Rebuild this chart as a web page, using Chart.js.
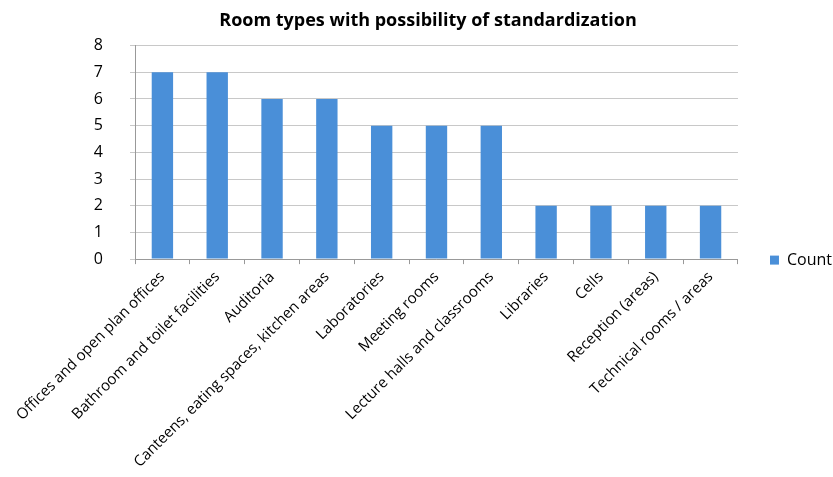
<!DOCTYPE html>
<html>
<head>
<meta charset="utf-8">
<script src="https://cdn.jsdelivr.net/npm/chart.js@4"></script>
<style>
  html, body { margin: 0; padding: 0; background: #fff; }
  #wrap { width: 833px; height: 477px; }
</style>
</head>
<body>
<div id="wrap"><canvas id="roomChart" width="833" height="477"></canvas></div>
<script>
// chart data
const roomTypes = [
    'Offices and open plan offices',
    'Bathroom and toilet facilities',
    'Auditoria',
    'Canteens, eating spaces, kitchen areas',
    'Laboratories',
    'Meeting rooms',
    'Lecture halls and classrooms',
    'Libraries',
    'Cells',
    'Reception (areas)',
    'Technical rooms / areas'
];
const counts = [7, 7, 6, 6, 5, 5, 5, 2, 2, 2, 2];
const yTicks = [0, 1, 2, 3, 4, 5, 6, 7, 8];

const fontFamily = '"Open Sans", "DejaVu Sans", sans-serif';

const ctx = document.getElementById('roomChart').getContext('2d');
new Chart(ctx, {
    type: 'bar',
    data: {
        labels: roomTypes,
        datasets: [{
            label: 'Count',
            data: counts,
            backgroundColor: '#4a8fd8',
            borderWidth: 0,
            categoryPercentage: 1,
            barPercentage: 0.39
        }]
    },
    options: {
        responsive: false,
        animation: false,
        layout: { padding: { left: 14, right: -9, top: 6, bottom: 2 } },
        plugins: {
            title: {
                display: true,
                text: 'Room types with possibility of standardization',
                color: '#000',
                font: { family: fontFamily, size: 18, weight: 'bold' },
                padding: { top: 4, bottom: 14 }
            },
            legend: {
                position: 'right',
                // empty title only pushes the single entry down a little
                title: { display: true, text: ' ', padding: 10, font: { family: fontFamily, size: 16 } },
                labels: {
                    boxWidth: 9,
                    boxHeight: 9,
                    color: '#000',
                    font: { family: fontFamily, size: 16 },
                    padding: 32
                }
            },
            tooltip: { enabled: false }
        },
        scales: {
            x: {
                offset: true,
                grid: {
                    offset: true,
                    drawOnChartArea: false,
                    drawTicks: true,
                    tickLength: 5,
                    color: '#999'
                },
                border: { color: '#999' },
                ticks: {
                    minRotation: 45,
                    maxRotation: 45,
                    autoSkip: false,
                    color: '#000',
                    padding: 4,
                    font: { family: fontFamily, size: 15 }
                }
            },
            y: {
                min: 0,
                max: 8,
                afterBuildTicks: axis => { axis.ticks = yTicks.map(v => ({ value: v })); },
                afterFit: axis => { axis.width = 121; },
                grid: { color: '#c8c8c8', tickLength: 5 },
                border: { color: '#999' },
                ticks: {
                    color: '#000',
                    padding: 27,
                    font: { family: fontFamily, size: 16 }
                }
            }
        }
    }
});
</script>
</body>
</html>
